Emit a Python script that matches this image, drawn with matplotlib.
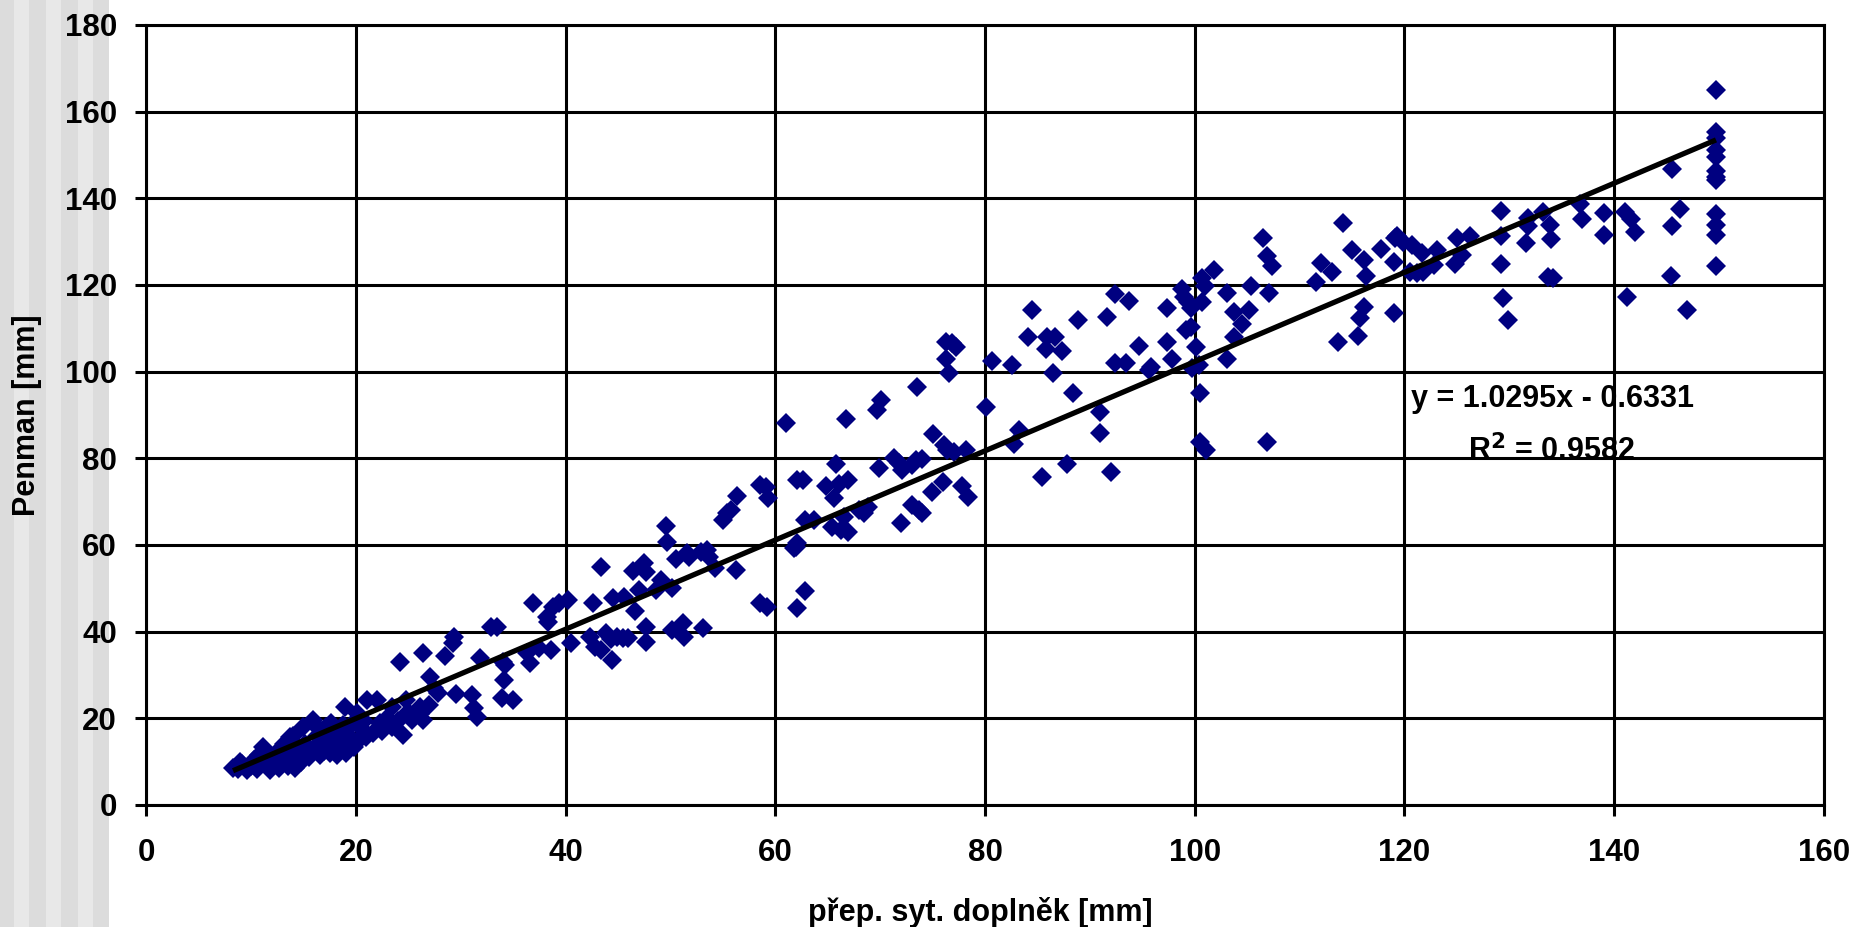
import matplotlib
matplotlib.use("Agg")
import matplotlib.pyplot as plt
from matplotlib.patches import Rectangle
import numpy as np

# ---- data ----
x_dense = [8.3, 8.8, 9.2, 9.6, 10.0, 10.3, 10.6, 11.0, 11.2, 11.5, 11.8, 12.1, 12.4, 12.7, 13.0, 13.2,
           13.5, 13.7, 13.9, 14.2, 14.5, 14.8, 15.0, 15.2, 15.5, 15.9, 16.0, 16.3, 16.6, 16.9, 17.2, 17.5,
           17.8, 18.0, 18.3, 18.6, 19.0, 19.1, 19.4, 19.7, 20.1, 20.3, 20.6, 21.0, 21.1, 21.6, 22.0, 22.3,
           23.5, 23.5, 24.5, 24.8, 25.4, 26.1, 26.1, 26.4,
           9.0, 10.8, 12.0, 13.3, 14.0, 15.7, 16.8, 17.0, 18.8, 19.8, 20.8, 22.5, 23.0, 24.0, 25.0, 16.1,
           17.6, 18.2, 12.8, 14.3]
y_dense = [8.5, 8.2, 9.5, 8.0, 9.0, 10.5, 8.2, 9.5, 13.4, 11.0, 8.0, 10.0, 12.0, 8.5, 10.5, 14.0,
           9.0, 15.7, 11.5, 8.5, 12.5, 10.0, 18.0, 14.0, 11.0, 19.6, 13.0, 16.0, 11.5, 14.5, 18.0, 12.0,
           15.5, 13.0, 17.0, 14.5, 22.6, 12.0, 16.0, 19.0, 21.2, 15.0, 17.5, 15.8, 24.2, 16.6, 24.2, 18.9,
           18.0, 22.6, 16.2, 24.2, 19.6, 21.0, 22.6, 19.6,
           10.0, 11.5, 8.8, 12.5, 16.0, 12.0, 17.0, 12.5, 18.5, 13.5, 19.5, 17.0, 20.0, 19.5, 21.5, 18.5,
           19.0, 11.5, 11.0, 13.8]

x_low = [24.2, 26.4, 28.5, 29.3, 29.4, 32.9, 33.5, 34.0, 34.2, 31.8, 34.1, 33.9, 35.0, 27.8, 29.6,
         31.1, 31.3, 31.6, 27.1, 27.0, 27.5]
y_low = [33.1, 35.0, 34.4, 37.4, 38.8, 41.1, 41.1, 33.0, 32.3, 33.9, 28.8, 24.7, 24.2, 25.8, 25.6,
         25.4, 22.4, 20.3, 29.5, 23.0, 27.0]

x_mid1 = [61.0, 62.1, 58.5, 59.1, 59.3, 56.4, 55.0, 55.4, 55.8, 49.6, 49.7, 50.5, 51.6, 51.8, 52.9,
          53.5, 53.7, 54.3, 56.3, 47.5, 47.7, 46.4, 43.4, 49.1, 48.6, 50.2, 47.0, 44.5, 45.6, 42.6,
          46.6, 36.9, 38.8, 39.4, 40.2, 38.2, 38.3, 58.5, 59.2, 62.1, 61.8, 47.7, 50.2, 51.2, 51.3,
          53.1, 47.7, 42.3, 42.8, 43.4, 43.9, 44.3, 44.9, 45.5, 46.0, 44.4, 40.5, 36.3, 36.6, 37.5, 38.6]
y_mid1 = [88.2, 75.0, 73.8, 73.4, 70.8, 71.3, 65.8, 67.4, 68.0, 64.4, 60.7, 56.8, 58.1, 57.3, 58.4,
          58.8, 57.3, 54.7, 54.2, 55.8, 53.8, 54.0, 55.0, 51.9, 49.6, 50.0, 49.6, 47.8, 48.0, 46.7,
          44.8, 46.7, 45.8, 46.6, 47.3, 43.4, 42.3, 46.7, 45.8, 45.4, 59.3, 41.1, 40.4, 42.0, 38.8,
          40.8, 37.7, 38.8, 36.5, 35.8, 39.7, 38.3, 38.8, 38.5, 38.5, 33.5, 37.3, 35.0, 32.8, 36.2, 35.8]

x_mid2 = [84.5, 88.9, 84.1, 85.9, 86.7, 85.8, 87.3, 86.5, 88.4, 82.6, 80.7, 80.1, 76.3, 76.9, 77.2,
          76.3, 76.6, 73.5, 70.1, 69.7, 66.7, 75.0, 76.1, 76.4, 77.0, 78.2, 82.8, 83.2, 91.0, 91.0,
          87.8, 85.4, 65.8, 62.6, 69.9, 71.3, 71.8, 72.1, 73.0, 73.4, 74.0, 64.8, 66.1, 66.9, 65.6,
          68.0, 68.5, 68.8, 66.6, 65.4, 66.3, 66.9, 62.8, 63.7, 62.0, 62.1, 62.8, 72.0, 73.0, 73.7,
          74.0, 74.9, 76.0, 77.8, 78.4, 92.0]
y_mid2 = [114.2, 111.9, 107.9, 107.9, 107.9, 105.2, 104.8, 99.7, 95.0, 101.5, 102.5, 91.9, 106.9, 106.6, 105.7,
          102.9, 99.7, 96.5, 93.5, 91.2, 89.0, 85.6, 83.1, 81.9, 81.5, 81.9, 83.3, 86.5, 90.7, 85.9,
          78.7, 75.8, 78.7, 75.0, 77.8, 80.1, 78.9, 77.3, 78.5, 79.6, 79.9, 73.6, 74.1, 75.0, 70.9,
          68.1, 67.4, 68.8, 66.5, 64.2, 63.5, 63.0, 65.8, 65.8, 59.6, 60.4, 49.4, 65.0, 69.2, 68.1,
          67.4, 72.3, 74.6, 73.6, 71.1, 76.9]

x_high1 = [114.1, 106.5, 106.9, 107.4, 101.8, 100.7, 101.0, 98.8, 99.0, 99.4, 99.6, 100.7, 97.4, 103.1,
           105.4, 107.1, 103.7, 105.2, 104.5, 103.7, 99.2, 99.6, 97.4, 94.7, 92.4, 93.4, 95.8, 95.6,
           97.8, 100.1, 99.7, 100.4, 103.1, 92.4, 93.7, 91.6, 100.5, 100.5, 101.1, 106.9, 112.0, 111.6,
           113.1, 115.0, 116.1, 116.3, 117.8, 119.1, 119.0, 116.1, 115.8, 115.6, 113.7, 119.0]
y_high1 = [134.2, 130.8, 126.7, 124.4, 123.5, 121.6, 119.8, 119.1, 117.3, 116.1, 114.7, 116.1, 114.7, 118.2,
           119.8, 118.2, 113.8, 114.2, 111.0, 108.0, 109.6, 110.4, 106.9, 105.9, 102.0, 102.0, 101.0, 100.4,
           102.9, 105.7, 100.8, 101.5, 102.9, 117.9, 116.3, 112.7, 95.0, 83.8, 81.9, 83.7, 125.1, 120.6,
           122.9, 128.1, 125.8, 122.1, 128.4, 130.8, 125.4, 115.0, 112.3, 108.2, 106.9, 113.5]

x_high2 = [149.7, 149.7, 149.7, 149.7, 149.7, 149.7, 149.7, 149.7, 145.5, 149.7, 149.7, 149.7, 149.7,
           146.3, 145.5, 145.4, 146.9, 141.2, 141.0, 141.6, 142.0, 139.0, 139.0, 136.7, 136.9, 133.9,
           134.0, 133.7, 134.2, 133.2, 131.8, 131.8, 131.6, 129.2, 129.2, 129.2, 129.4, 129.9, 125.0,
           126.2, 124.8, 125.5, 123.1, 122.8, 121.7, 121.8, 120.5, 121.2, 119.3, 119.9, 120.7]
y_high2 = [165.0, 155.4, 154.0, 151.2, 149.6, 146.2, 145.0, 144.2, 146.7, 136.4, 133.8, 131.5, 124.4,
           137.5, 133.5, 122.1, 114.2, 117.2, 136.9, 135.2, 132.3, 136.7, 131.5, 138.7, 135.2, 133.8,
           130.6, 121.9, 121.5, 136.9, 135.4, 133.5, 129.8, 137.1, 131.2, 124.8, 116.9, 111.9, 130.8,
           131.2, 124.8, 126.9, 128.1, 124.6, 127.3, 123.1, 123.1, 122.7, 131.2, 130.0, 129.2]

slope = 1.0295
intercept = -0.6331
r2 = 0.9582

x_ticks = [0, 20, 40, 60, 80, 100, 120, 140, 160]
y_ticks = [0, 20, 40, 60, 80, 100, 120, 140, 160, 180]
x_label = "přep. syt. doplněk [mm]"
y_label = "Penman [mm]"

# ---- figure ----
plt.rcParams['font.family'] = ['Liberation Sans', 'DejaVu Sans']
plt.rcParams['font.weight'] = 'bold'

W, H = 1852, 927
fig = plt.figure(figsize=(W / 100, H / 100), dpi=100)
fig.patch.set_facecolor('white')

# gray stripes on the left edge (behind everything)
edges = [0, 14, 29, 46, 61, 78, 93, 109]
cols = ['#dcdcdc', '#e8e8e8'] * 4
for i in range(len(edges) - 1):
    fig.patches.append(Rectangle((edges[i] / W, 0), (edges[i + 1] - edges[i]) / W, 1,
                                 transform=fig.transFigure, facecolor=cols[i],
                                 edgecolor='none', zorder=-10))

left, right, top, bottom = 146, 1824, 25, 805
ax = fig.add_axes([left / W, 1 - bottom / H, (right - left) / W, (bottom - top) / H])
ax.set_facecolor('white')
ax.set_zorder(1)

xs = np.array(x_dense + x_low + x_mid1 + x_mid2 + x_high1 + x_high2)
ys = np.array(y_dense + y_low + y_mid1 + y_mid2 + y_high1 + y_high2)

ax.plot(xs, ys, linestyle='none', marker='D', markersize=10.5, color='#000080',
        markeredgewidth=0, zorder=3, clip_on=False)

xl = np.array([xs.min(), xs.max()])
ax.plot(xl, slope * xl + intercept, color='black', linewidth=3.8, zorder=4,
        solid_capstyle='butt')

ax.set_xlim(0, 160)
ax.set_ylim(0, 180)
ax.set_xticks(x_ticks)
ax.set_yticks(y_ticks)
ax.grid(True, color='black', linewidth=2.2)
ax.set_axisbelow(True)
for s in ax.spines.values():
    s.set_color('black')
    s.set_linewidth(2.2)

ax.tick_params(axis='both', direction='out', length=8, width=2.2, labelsize=22.5, colors='black')
ax.tick_params(axis='y', pad=13)
ax.tick_params(axis='x', pad=16)
for lab in ax.get_xticklabels() + ax.get_yticklabels():
    lab.set_fontweight('bold')

ax.set_xlabel(x_label, fontsize=22, fontweight='bold')
ax.set_ylabel(y_label, fontsize=22, fontweight='bold')
ax.xaxis.set_label_coords(0.497, -0.118)
ax.yaxis.set_label_coords(-0.062, 0.5)

eq1 = "y = {:.4f}x - {:.4f}".format(slope, abs(intercept))
eq2 = "R$^2$ = {:.4f}".format(r2)
ax.text((1553 - left) / (right - left), (bottom - 399) / (bottom - top), eq1,
        transform=ax.transAxes, ha='center', va='center', fontsize=22, fontweight='bold', zorder=5)
ax.text((1551 - left) / (right - left), (bottom - 451) / (bottom - top), eq2,
        transform=ax.transAxes, ha='center', va='center', fontsize=22, fontweight='bold', zorder=5)

fig.savefig('out.png', dpi=100)
